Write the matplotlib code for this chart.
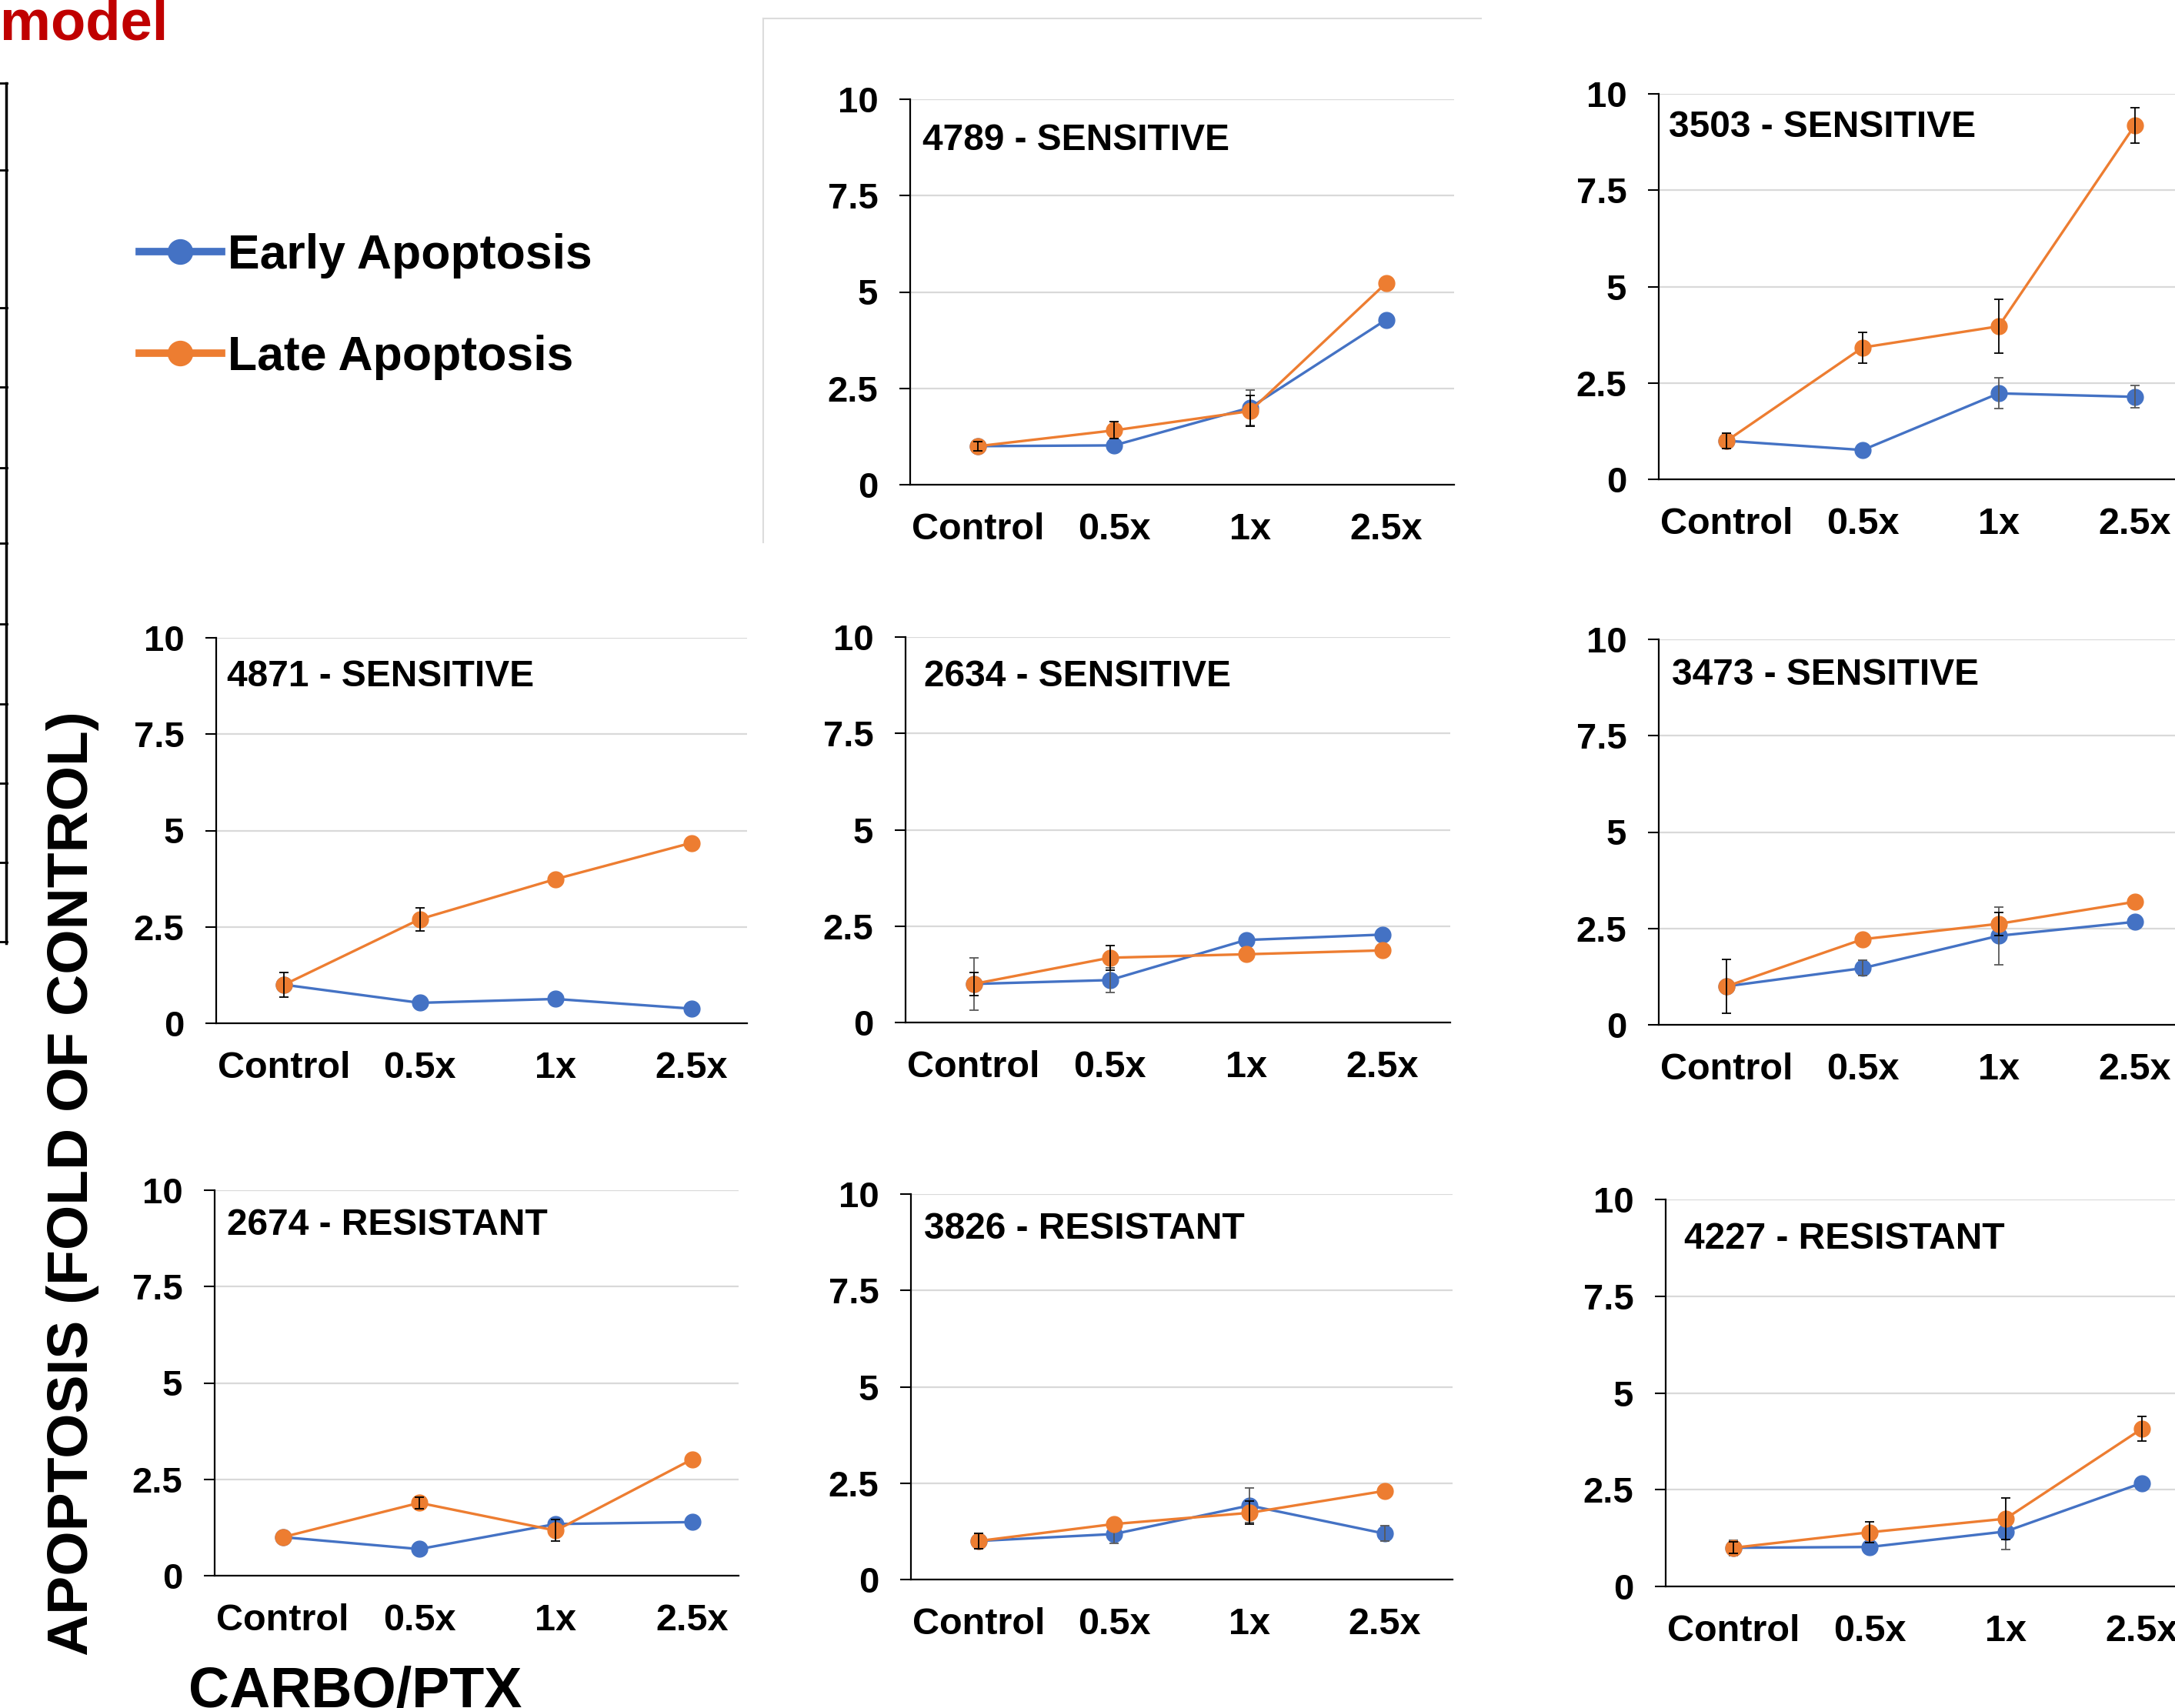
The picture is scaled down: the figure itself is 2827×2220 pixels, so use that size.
import matplotlib
matplotlib.use("Agg")
import matplotlib.pyplot as plt
from matplotlib.lines import Line2D

# Data (fold of control)
doses = ['Control', '0.5x', '1x', '2.5x']
samples = ['4789', '3503', '4871', '2634', '3473', '2674', '3826', '4227']
status = ['SENSITIVE', 'SENSITIVE', 'SENSITIVE', 'SENSITIVE', 'SENSITIVE',
          'RESISTANT', 'RESISTANT', 'RESISTANT']

early_mean = [[1.0, 1.02, 2.0, 4.28],
              [1.0, 0.76, 2.23, 2.14],
              [1.0, 0.53, 0.63, 0.38],
              [1.0, 1.10, 2.14, 2.28],
              [1.0, 1.47, 2.31, 2.67],
              [1.0, 0.69, 1.34, 1.39],
              [1.0, 1.18, 1.92, 1.19],
              [1.0, 1.02, 1.42, 2.67]]
early_sd = [[0.15, 0.0, 0.46, 0.0],
            [0.1, 0.0, 0.4, 0.29],
            [0.0, 0.0, 0.0, 0.0],
            [0.68, 0.32, 0.0, 0.0],
            [0.0, 0.2, 0.75, 0.0],
            [0.0, 0.0, 0.0, 0.0],
            [0.2, 0.25, 0.45, 0.2],
            [0.2, 0.0, 0.46, 0.0]]
late_mean = [[1.0, 1.41, 1.91, 5.23],
             [1.0, 3.42, 3.97, 9.18],
             [1.0, 2.70, 3.74, 4.68],
             [1.0, 1.68, 1.77, 1.87],
             [1.0, 2.22, 2.62, 3.19],
             [1.0, 1.89, 1.17, 3.02],
             [1.0, 1.44, 1.73, 2.30],
             [1.0, 1.40, 1.75, 4.07]]
late_sd = [[0.12, 0.22, 0.4, 0.0],
           [0.2, 0.4, 0.7, 0.46],
           [0.32, 0.3, 0.0, 0.0],
           [0.3, 0.32, 0.0, 0.0],
           [0.7, 0.0, 0.3, 0.0],
           [0.0, 0.15, 0.28, 0.0],
           [0.2, 0.0, 0.3, 0.0],
           [0.15, 0.27, 0.53, 0.32]]

yticks = [0, 2.5, 5, 7.5, 10]
ytick_labels = ['0', '2.5', '5', '7.5', '10']

# Layout in pixels: x_left, x_right, y_top, y_bottom, xlim right, title x/y (axes fraction)
W, H = 2827, 2220
boxes = [(1183, 1890, 129, 630, 3.5, 0.023, 0.894),
         (2156, 2863, 122, 623, 3.5, 0.018, 0.914),
         (281, 971, 829, 1330, 3.41, 0.020, 0.899),
         (1177, 1885, 828, 1329, 3.5, 0.034, 0.898),
         (2156, 2863, 831, 1332, 3.5, 0.024, 0.908),
         (279, 960, 1547, 2048, 3.34, 0.023, 0.910),
         (1184, 1888, 1552, 2053, 3.5, 0.024, 0.910),
         (2165, 2872, 1559, 2062, 3.5, 0.034, 0.897)]

BLUE = '#4472C4'
ORANGE = '#ED7D31'

plt.rcParams['font.family'] = ['Liberation Sans', 'DejaVu Sans']
plt.rcParams['font.weight'] = 'bold'

fig = plt.figure(figsize=(W / 100, H / 100), dpi=100)


def px_axes(x0, x1, y0, y1):
    return fig.add_axes([x0 / W, 1 - y1 / H, (x1 - x0) / W, (y1 - y0) / H])


def err_bars(ax, means, sds, color, z):
    # only points that carry a visible error bar
    keep = [k for k in range(len(sds)) if sds[k] > 0]
    if keep:
        ax.errorbar(keep, [means[k] for k in keep], yerr=[sds[k] for k in keep],
                    fmt='none', ecolor=color, elinewidth=1.3, capsize=4.5,
                    capthick=1.3, zorder=z)


x = list(range(len(doses)))
for i in range(len(samples)):
    x0, x1, y0, y1, xmax, tx, ty = boxes[i]
    ax = px_axes(x0, x1, y0, y1)
    ax.plot(x, early_mean[i], color=BLUE, lw=2.4, marker='o', ms=15, zorder=3)
    err_bars(ax, early_mean[i], early_sd[i], '#595959', 4)
    ax.plot(x, late_mean[i], color=ORANGE, lw=2.4, marker='o', ms=15, zorder=5)
    err_bars(ax, late_mean[i], late_sd[i], 'black', 6)

    ax.set_xlim(-0.5, xmax)
    ax.set_ylim(0, 10)
    ax.set_yticks(yticks)
    ax.set_yticklabels(ytick_labels)
    ax.set_xticks(x)
    ax.set_xticklabels(doses)
    ax.tick_params(axis='x', length=0, pad=26, labelsize=35)
    ax.tick_params(axis='y', length=10, width=1.5, pad=20, labelsize=34)
    for s in ['top', 'right']:
        ax.spines[s].set_visible(False)
    for s in ['left', 'bottom']:
        ax.spines[s].set_linewidth(1.6)
    ax.grid(axis='y', color='#d9d9d9', lw=1.6)
    ax.set_axisbelow(True)
    ax.patch.set_alpha(0)
    ax.text(tx, ty, f'{samples[i]} - {status[i]}', transform=ax.transAxes,
            fontsize=34.5, fontweight='bold', ha='left', va='center')

# Shared labels
fig.text(95 / W, 1 - 1538 / H, 'APOPTOSIS (FOLD OF CONTROL)', rotation=90,
         fontsize=54, fontweight='bold', ha='center', va='center')
fig.text(462 / W, 1 - 2218 / H, 'CARBO/PTX', fontsize=53, fontweight='bold',
         ha='center', va='baseline')
fig.text(0, 1 - 52 / H, 'model', fontsize=53.5, fontweight='bold', color='#C00000',
         ha='left', va='baseline')

# Legend
handles = [Line2D([], [], color=BLUE, lw=7, marker='o', ms=23),
           Line2D([], [], color=ORANGE, lw=7, marker='o', ms=23)]
fig.legend(handles, ['Early Apoptosis', 'Late Apoptosis'], loc='upper left',
           bbox_to_anchor=(181 / W, 1 - 303 / H), frameon=False,
           prop={'size': 45, 'weight': 'bold'}, handlelength=1.71,
           handletextpad=0.13, labelspacing=1.17, borderpad=0, borderaxespad=0)

# Remains of neighbouring panels cut by the crop
fig.add_artist(Line2D([992 / W, 992 / W], [1 - 24 / H, 1 - 705 / H],
                      color='#dcdcdc', lw=1.5))
fig.add_artist(Line2D([992 / W, 1925 / W], [1 - 24 / H, 1 - 24 / H],
                      color='#dcdcdc', lw=1.5))
fig.add_artist(Line2D([8 / W, 8 / W], [1 - 108 / H, 1 - 1226 / H],
                      color='black', lw=2.5))
for ty in [108, 221, 400, 503, 608, 706, 811, 915, 1018, 1121, 1224]:
    fig.add_artist(Line2D([0, 9 / W], [1 - ty / H, 1 - ty / H], color='black', lw=2))

fig.savefig('out.png', dpi=100)
